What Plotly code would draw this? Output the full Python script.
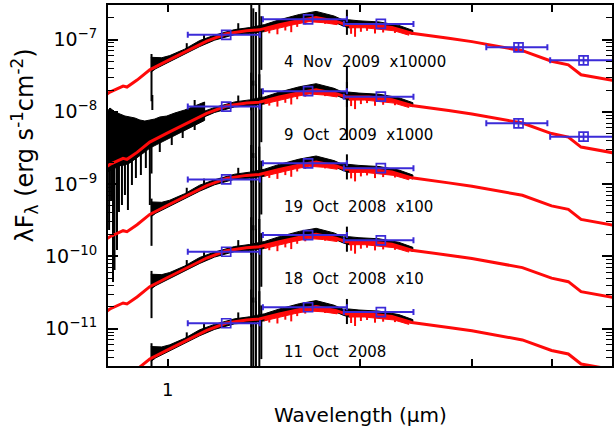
import plotly.graph_objects as go

# ---------------- data (fluxes in units of 1e-12 erg s^-1 cm^-2, unscaled) ----------------
epochs = ["11 Oct 2008", "18 Oct 2008", "19 Oct 2008", "9 Oct 2009", "4 Nov 2009"]
offset_factor = [1, 10, 100, 1000, 10000]

# model SED (red)
model_wl = [0.803, 0.8115, 0.851, 0.863, 0.895, 0.937, 0.996, 1.071, 1.151, 1.236, 1.329,
            1.392, 1.496, 1.625, 1.709, 1.837, 1.905, 2.068, 2.247, 2.414, 2.661, 2.758,
            3.0, 3.6, 4.0, 4.25, 4.45, 4.68, 4.96, 5.1]
model_flux = [1.757, 1.873, 2.268, 2.20, 2.745, 3.81, 5.02, 6.91, 9.50, 12.0, 13.2,
              13.6, 16.0, 18.7, 20.2, 17.8, 16.0, 16.0, 14.7, 12.2, 11.0, 10.4,
              9.35, 7.0, 5.0, 4.47, 3.25, 3.02, 2.72, 2.62]

# model noise band (red) in H and K: wavelength / low / high
model_band_wl = [1.418, 1.496, 1.579, 1.666, 1.757, 1.844, None, 1.924, 2.035, 2.145, 2.264, 2.389]
model_band_lo = [12.86, 14.52, 16.13, 17.64, 17.08, 16.03, None, 14.52, 14.52, 14.02, 13.20, 11.47]
model_band_hi = [14.15, 15.97, 17.74, 19.40, 18.79, 17.63, None, 15.97, 15.97, 15.42, 14.52, 12.62]

# model noise teeth (red)
model_tooth_wl = [1.443, 1.486, 1.529, 1.562, 1.596, 1.643, 1.765, 1.939, 1.967, 2.009, 2.054, 2.114, 2.177, 2.272]
model_tooth_lo = [12.18, 11.80, 13.32, 12.62, 14.94, 16.18, 16.49, 11.99, 10.90, 12.78, 13.19, 12.11, 12.50, 12.34]
model_tooth_hi = [14.75, 15.72, 16.64, 17.35, 18.09, 18.97, 19.33, 15.97, 15.97, 15.97, 15.97, 15.62, 15.13, 14.47]

# observed spectrum (black) envelope, shared shape
spec_wl = [0.9407, 0.9577, 0.9786, 1.0072, 1.063, 1.122, 1.184, 1.273, 1.343, 1.418, 1.496,
           1.608, 1.709, 1.823, 1.884, 1.924, 1.995, 2.145, 2.304, 2.424]
spec_hi = [5.67, 5.60, 5.60, 5.99, 7.36, 9.66, 11.47, 13.70, 14.61, 16.07, 18.73,
           22.17, 24.47, 21.13, 18.61, 18.73, 18.14, 17.51, 15.67, 13.36]
spec_lo = [3.52, 3.95, 4.34, 4.95, 6.28, 7.98, 9.78, 11.69, 12.07, 12.86, 15.47,
           17.74, 19.58, 17.46, 15.37, 14.52, 15.47, 14.94, 13.36, 11.76]

# spectral spikes (telluric residuals, edges)
spike_wl = [0.943, 1.071, 1.14, 1.29, 1.352, 1.362, 1.375, 1.392, 1.402, 1.91]
spike_lo = [1.4, 6.9, 9.2, 13.0, 1.05, 2.3, 1.4, 1.45, 3.8, 11.6]
spike_hi = [6.3, 8.9, 11.9, 16.8, 34.8, 27.0, 24.0, 33.0, 21.0, 25.8]

# 9 Oct 2009: noisy blue end of the spectrum
blue_wl = [0.8028, 0.8115, 0.8265, 0.8414, 0.8567, 0.8722, 0.8880, 0.9042, 0.9205, 0.9373,
           0.9543, 0.9716, 0.9964, 1.0255, 1.0631, 1.1020, 1.1424]
blue_hi = [9.94, 11.29, 9.94, 9.32, 8.74, 8.48, 8.21, 7.70, 7.46, 7.70,
           7.95, 8.48, 8.74, 9.62, 10.59, 12.03, 13.66]
blue_lo = [1.451, 1.547, 1.665, 1.797, 1.843, 1.965, 2.161, 2.455, 2.780, 3.147,
           3.419, 3.702, 4.153, 4.716, 5.529, 6.484, 7.604]
blue_spike_wl = [0.809, 0.8147, 0.8206, 0.8250, 0.8324, 0.8384, 0.8475, 0.8567, 0.8660, 0.8786,
                 0.8913, 0.9075, 0.9239, 0.9373, 0.9458, 0.9716, 1.0145, 1.0554, 1.1020, 1.91]
blue_spike_lo = [0.232, 0.603, 0.0442, 0.0648, 0.1226, 0.411, 0.514, 0.707, 0.438, 0.972,
                 1.214, 1.336, 1.670, 0.514, 10.59, 2.78, 3.47, 4.34, 5.60, 4.07]
blue_spike_hi = [9.03, 9.94, 10.59, 9.03, 9.03, 8.21, 8.21, 7.70, 7.70, 7.70,
                 7.23, 7.23, 6.57, 6.57, 17.08, 6.57, 7.70, 9.94, 14.56, 43.0]

# photometry (J, H, Ks, IRAC 3.6, IRAC 4.5)
phot_wl = [1.235, 1.66, 2.159, 3.55, 4.49]
phot_halfwidth = [0.16, 0.25, 0.27, 0.39, 0.51]
phot_flux = [
    [11.9, 19.8, 17.0],
    [11.6, 19.7, 16.7],
    [11.6, 19.4, 16.6],
    [11.8, 19.3, 16.2, 6.93, 4.53],
    [11.6, 19.0, 16.4, 7.80, 5.15],
]

# ---------------- figure ----------------
UNIT = 1e-12
BLUE = "#3b2bd8"
RED = "#ff0a0a"
FONT = "DejaVu Sans"

fig = go.Figure()


def seg(wl, lo, hi, s):
    xs, ys = [], []
    for w, a, b in zip(wl, lo, hi):
        xs += [w, w, None]
        ys += [a * s * UNIT, b * s * UNIT, None]
    return xs, ys


def band(wl, lo, hi, s):
    # split on None, return closed polygons separated by None
    xs, ys = [], []
    groups, cur = [], []
    for w, a, b in zip(wl, lo, hi):
        if w is None:
            groups.append(cur)
            cur = []
        else:
            cur.append((w, a, b))
    groups.append(cur)
    for g in groups:
        gx = [p[0] for p in g]
        xs += gx + gx[::-1] + [None]
        ys += [p[2] * s * UNIT for p in g] + [p[1] * s * UNIT for p in g[::-1]] + [None]
    return xs, ys


# black spectra
for i, s in enumerate(offset_factor):
    bx, by = band(spec_wl, spec_lo, spec_hi, s)
    fig.add_trace(go.Scatter(x=bx, y=by, mode="lines", fill="toself", fillcolor="black",
                             line=dict(color="black", width=1), hoverinfo="skip", showlegend=False))
    xs, ys = seg(spike_wl, spike_lo, spike_hi, s)
    fig.add_trace(go.Scatter(x=xs, y=ys, mode="lines", line=dict(color="black", width=2),
                             hoverinfo="skip", showlegend=False))
    if epochs[i] == "9 Oct 2009":
        bx, by = band(blue_wl, blue_lo, blue_hi, s)
        fig.add_trace(go.Scatter(x=bx, y=by, mode="lines", fill="toself", fillcolor="black",
                                 line=dict(color="black", width=1), hoverinfo="skip", showlegend=False))
        xs, ys = seg(blue_spike_wl, blue_spike_lo, blue_spike_hi, s)
        fig.add_trace(go.Scatter(x=xs, y=ys, mode="lines", line=dict(color="black", width=2),
                                 hoverinfo="skip", showlegend=False))

# red models
for i, s in enumerate(offset_factor):
    fig.add_trace(go.Scatter(x=model_wl, y=[v * s * UNIT for v in model_flux], mode="lines",
                             line=dict(color=RED, width=3), hoverinfo="skip", showlegend=False))
    bx, by = band(model_band_wl, model_band_lo, model_band_hi, s)
    fig.add_trace(go.Scatter(x=bx, y=by, mode="lines", fill="toself", fillcolor=RED,
                             line=dict(color=RED, width=1), hoverinfo="skip", showlegend=False))
    xs, ys = seg(model_tooth_wl, model_tooth_lo, model_tooth_hi, s)
    fig.add_trace(go.Scatter(x=xs, y=ys, mode="lines", line=dict(color=RED, width=2),
                             hoverinfo="skip", showlegend=False))

# photometry
for i, s in enumerate(offset_factor):
    f = phot_flux[i]
    n = len(f)
    syms = ["square-open"] * 3 + ["square-cross-open"] * (n - 3)
    fig.add_trace(go.Scatter(
        x=phot_wl[:n], y=[v * s * UNIT for v in f], mode="markers",
        marker=dict(symbol=syms[:n], size=9, color=BLUE, line=dict(color=BLUE, width=1.7)),
        error_x=dict(type="data", array=phot_halfwidth[:n], color=BLUE, thickness=2, width=3),
        hoverinfo="skip", showlegend=False))

# epoch labels
for i, s in enumerate(offset_factor):
    txt = epochs[i].replace(" ", "\u00a0 ")
    if s > 1:
        txt += "\u00a0 x" + str(s)
    fig.add_annotation(x=0.1789, y=-11.318 + len(str(s)) - 1, xref="x", yref="y",
                       text=txt, showarrow=False, xanchor="left", yanchor="middle",
                       font=dict(family=FONT, size=15, color="black"))

# axis titles
fig.add_annotation(x=0.5, y=-0.1357, xref="paper", yref="paper", text="Wavelength (\u03bcm)",
                   showarrow=False, xanchor="center", yanchor="middle",
                   font=dict(family=FONT, size=20, color="black"))
fig.add_annotation(x=-0.166, y=0.612, xref="paper", yref="paper",
                   text="\u03bbF<sub>\u03bb</sub> (erg s<sup>-1</sup>cm<sup>-2</sup>)",
                   textangle=-90, showarrow=False, xanchor="center", yanchor="middle",
                   font=dict(family=FONT, size=24, color="black"))

ydec = [1e-11, 1e-10, 1e-9, 1e-8, 1e-7]
ylab = ["10<sup>\u221211</sup>", "10<sup>\u221210</sup>", "10<sup>\u22129</sup>",
        "10<sup>\u22128</sup>", "10<sup>\u22127</sup>"]
yminor = [k * 10.0 ** e for e in range(-12, -6) for k in range(2, 10)]

fig.update_xaxes(type="log", range=[-0.09375, 0.696875], tickvals=[1, 2, 3, 4],
                 ticktext=["1", "", "", ""], ticks="inside", ticklen=7, tickwidth=1.5,
                 tickcolor="black", showline=True, linewidth=2, linecolor="black",
                 mirror="ticks", showgrid=False, zeroline=False, ticklabelstandoff=6,
                 tickfont=dict(family=FONT, size=18, color="black"))
fig.update_yaxes(type="log", range=[-11.5159, -6.5228], tickvals=ydec, ticktext=ylab,
                 ticks="inside", ticklen=10, tickwidth=1.5, tickcolor="black",
                 minor=dict(tickvals=yminor, ticks="inside", ticklen=6, tickwidth=1.2,
                            tickcolor="black", showgrid=False),
                 showline=True, linewidth=2, linecolor="black", mirror="ticks",
                 showgrid=False, zeroline=False, ticklabelstandoff=5,
                 tickfont=dict(family=FONT, size=19, color="black"))

fig.update_layout(width=614, height=427, margin=dict(l=108, r=0, t=5, b=61),
                  paper_bgcolor="white", plot_bgcolor="white", showlegend=False,
                  hovermode=False)

fig.write_html("out.html", config={"displayModeBar": False})
